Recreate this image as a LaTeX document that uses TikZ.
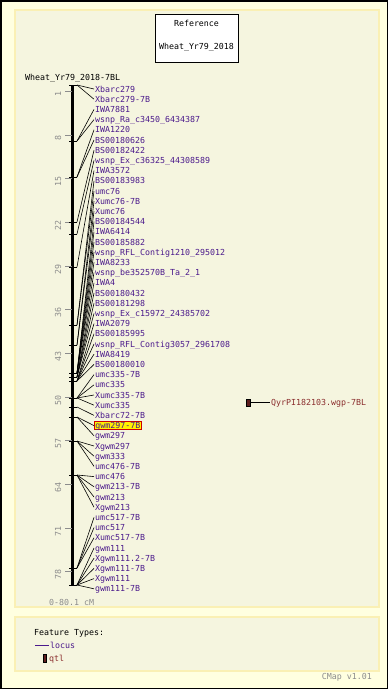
\documentclass[tikz,border=0pt]{standalone}
\usepackage{fontspec}
\setmonofont{DejaVu Sans Mono}
\usetikzlibrary{positioning}

\definecolor{outerbg}{HTML}{FFFFE0}
\definecolor{panelbg}{HTML}{F5F5DF}
\definecolor{panelline}{HTML}{FAF0B4}
\definecolor{locuscol}{HTML}{4B1A8C}
\definecolor{qtlcol}{HTML}{8B2E2E}
\definecolor{qtlfill}{HTML}{5E1E1E}
\definecolor{scalegray}{HTML}{8C8C8C}

\begin{document}
\begin{tikzpicture}[x=1pt, y=-1pt,
  font=\ttfamily\fontsize{8.3}{9}\selectfont,
  panel/.style={fill=panelbg, draw=panelline, line width=1.5pt},
  txt/.style={inner sep=1pt, text height=6pt, text depth=0pt},
  mlabel/.style={txt, anchor=west, text=locuscol},
  hlabel/.style={mlabel, fill=yellow, draw=red!80!black, line width=0.8pt},
  conn/.style={black, line width=0.6pt},
  scaletick/.style={scalegray, line width=0.8pt},
  marktick/.style={black, line width=0.8pt}]

\useasboundingbox (0,0) rectangle (388,689);

% Fondo y paneles
\fill[outerbg] (0,0) rectangle (388,689);
\draw[line width=1.5pt] (0.75,0.75) rectangle (387.25,688.25);
\draw[panel] (15,10) rectangle (379,607);
\draw[panel] (15,617) rectangle (379,671);

% Caja de referencia
\node[draw=black, fill=white, line width=0.8pt, minimum width=83pt, minimum height=48pt] (refbox) at (196.5,38) {};
\node[txt] (reftitle) at (196.5,23) {Reference};
\node[txt] (refmap) at (196.5,46) {Wheat\_Yr79\_2018};

% Mapa
\node[txt, anchor=west] (maptitle) at (24,77) {Wheat\_Yr79\_2018-7BL};
\coordinate (bartop) at (72.5,85);
\coordinate (barbot) at (72.5,585);
\draw[line width=3pt] (bartop) -- (barbot);
\node[txt, anchor=west, text=scalegray] (range) at (48,602) {0-80.1 cM};

% Escala en cM
\foreach \cm in {1,8,...,78} {
  \pgfmathsetmacro\sy{85+6.242*\cm}
  \draw[scaletick] (65,\sy) -- (72,\sy);
  \node[txt, text=scalegray, rotate=90] (s\cm) at (58,\sy+3) {\cm};
}

% Marcadores
\foreach \name/\my/\sty [count=\i] in {
  Xbarc279/85/mlabel, Xbarc279-7B/85/mlabel,
  IWA7881/141/mlabel, wsnp\_Ra\_c3450\_6434387/141/mlabel,
  IWA1220/177/mlabel, BS00180626/177/mlabel,
  BS00182422/222/mlabel, wsnp\_Ex\_c36325\_44308589/234/mlabel,
  IWA3572/267/mlabel, BS00183983/325/mlabel, umc76/325/mlabel,
  Xumc76-7B/345/mlabel, Xumc76/345/mlabel,
  BS00184544/373/mlabel, IWA6414/373/mlabel, BS00185882/373/mlabel,
  wsnp\_RFL\_Contig1210\_295012/373/mlabel, IWA8233/373/mlabel,
  wsnp\_be352570B\_Ta\_2\_1/373/mlabel,
  IWA4/377/mlabel, BS00180432/377/mlabel, BS00181298/377/mlabel,
  wsnp\_Ex\_c15972\_24385702/377/mlabel,
  IWA2079/381/mlabel, BS00185995/381/mlabel,
  wsnp\_RFL\_Contig3057\_2961708/381/mlabel, IWA8419/381/mlabel,
  BS00180010/381/mlabel,
  umc335-7B/398/mlabel, umc335/398/mlabel, Xumc335-7B/398/mlabel,
  Xumc335/398/mlabel, Xbarc72-7B/407/mlabel,
  gwm297-7B/417/hlabel, gwm297/417/mlabel,
  Xgwm297/441/mlabel, gwm333/441/mlabel, umc476-7B/441/mlabel,
  umc476/475/mlabel, gwm213-7B/475/mlabel, gwm213/475/mlabel,
  Xgwm213/475/mlabel,
  umc517-7B/568/mlabel, umc517/568/mlabel, Xumc517-7B/568/mlabel,
  gwm111/585/mlabel, Xgwm111.2-7B/585/mlabel, Xgwm111-7B/585/mlabel,
  Xgwm111/585/mlabel, gwm111-7B/585/mlabel} {
  \pgfmathsetmacro\ly{89+10.2*(\i-1)}
  \coordinate (m\i) at (77,\my);
  \draw[marktick] (69,\my) -- (m\i);
  \node[\sty] (l\i) at (94,\ly) {\name};
  \draw[conn] (m\i) -- (l\i.west);
}

% QTL
\node[draw=black, fill=qtlfill, line width=0.6pt, minimum width=4pt, minimum height=7pt, inner sep=0pt] (qtlbox) at (248.5,402.5) {};
\node[txt, anchor=west, text=qtlcol] (qtllabel) at (270,402.5) {QyrPI182103.wgp-7BL};
\draw[conn] (qtlbox.east) -- (qtllabel.west);

% Leyenda
\node[txt, anchor=west] (ftitle) at (33,632) {Feature Types:};
\coordinate (lstart) at (35,645);
\node[mlabel] (llocus) at (49,645) {locus};
\draw[locuscol, line width=0.8pt] (lstart) -- (llocus.west);
\node[draw=black, fill=qtlfill, line width=0.6pt, minimum width=3pt, minimum height=8pt, inner sep=0pt] (lqtlbox) at (44.5,658) {};
\node[txt, anchor=west, text=qtlcol] (lqtl) at (48,658) {qtl};
\node[txt, anchor=east, text=scalegray] (version) at (373,676) {CMap v1.01};

\end{tikzpicture}
\end{document}
